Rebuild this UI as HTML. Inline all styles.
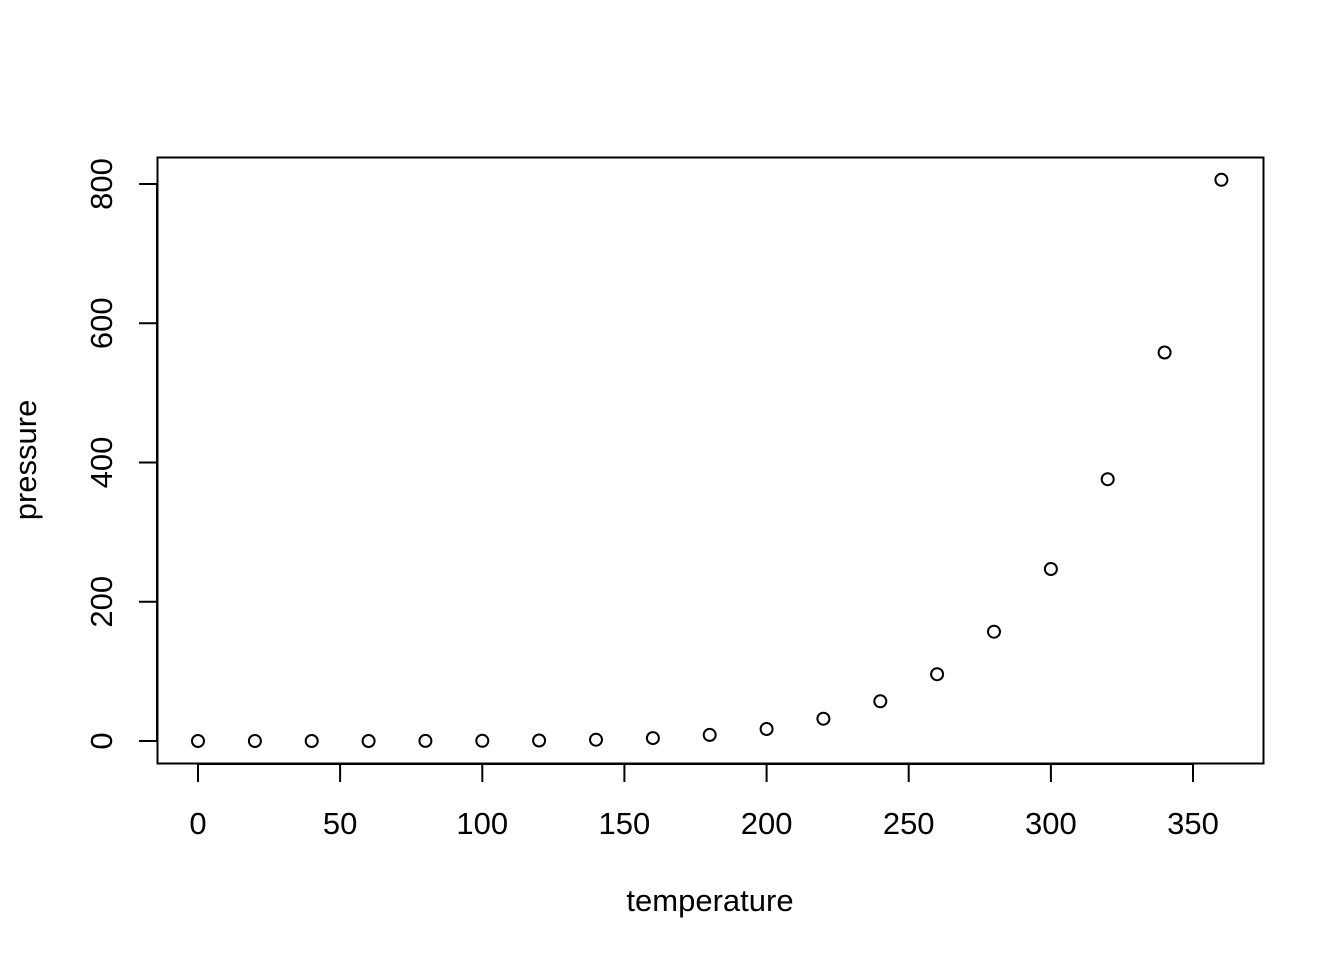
<!DOCTYPE html>
<html><head><meta charset="utf-8"><style>html,body{margin:0;padding:0;background:#fff}</style></head>
<body>
<svg width="1344" height="960" xmlns="http://www.w3.org/2000/svg" font-family="Liberation Sans, Arial, sans-serif" font-size="31">
<rect x="0" y="0" width="1344" height="960" fill="#fff"/>
<rect x="157.5" y="157.5" width="1106" height="606" fill="none" stroke="#000" stroke-width="2"/>
<g stroke="#000" stroke-width="2">
<line x1="198" y1="764" x2="1193" y2="764"/>
<line x1="198" y1="764" x2="198" y2="782"/>
<line x1="340.1" y1="764" x2="340.1" y2="782"/>
<line x1="482.3" y1="764" x2="482.3" y2="782"/>
<line x1="624.4" y1="764" x2="624.4" y2="782"/>
<line x1="766.6" y1="764" x2="766.6" y2="782"/>
<line x1="908.7" y1="764" x2="908.7" y2="782"/>
<line x1="1050.9" y1="764" x2="1050.9" y2="782"/>
<line x1="1193" y1="764" x2="1193" y2="782"/>
<line x1="157" y1="741" x2="157" y2="184"/>
<line x1="157" y1="741" x2="139" y2="741"/>
<line x1="157" y1="601.75" x2="139" y2="601.75"/>
<line x1="157" y1="462.5" x2="139" y2="462.5"/>
<line x1="157" y1="323.25" x2="139" y2="323.25"/>
<line x1="157" y1="184" x2="139" y2="184"/>
</g>
<g text-anchor="middle">
<text x="198" y="834">0</text>
<text x="340.1" y="834">50</text>
<text x="482.3" y="834">100</text>
<text x="624.4" y="834">150</text>
<text x="766.6" y="834">200</text>
<text x="908.7" y="834">250</text>
<text x="1050.9" y="834">300</text>
<text x="1193" y="834">350</text>
<text x="710" y="911">temperature</text>
<text transform="translate(112,741) rotate(-90)">0</text>
<text transform="translate(112,601.75) rotate(-90)">200</text>
<text transform="translate(112,462.5) rotate(-90)">400</text>
<text transform="translate(112,323.25) rotate(-90)">600</text>
<text transform="translate(112,184) rotate(-90)">800</text>
<text transform="translate(36,460) rotate(-90)">pressure</text>
</g>
<g fill="none" stroke="#000" stroke-width="2">
<circle cx="198" cy="741" r="6"/>
<circle cx="254.9" cy="741" r="6"/>
<circle cx="311.7" cy="741" r="6"/>
<circle cx="368.6" cy="741" r="6"/>
<circle cx="425.4" cy="740.9" r="6"/>
<circle cx="482.3" cy="740.8" r="6"/>
<circle cx="539.1" cy="740.5" r="6"/>
<circle cx="596" cy="739.7" r="6"/>
<circle cx="652.9" cy="738.1" r="6"/>
<circle cx="709.7" cy="734.9" r="6"/>
<circle cx="766.6" cy="729" r="6"/>
<circle cx="823.4" cy="718.7" r="6"/>
<circle cx="880.3" cy="701.3" r="6"/>
<circle cx="937.1" cy="674.2" r="6"/>
<circle cx="994" cy="631.7" r="6"/>
<circle cx="1050.9" cy="569" r="6"/>
<circle cx="1107.7" cy="479.2" r="6"/>
<circle cx="1164.6" cy="352.5" r="6"/>
<circle cx="1221.4" cy="179.8" r="6"/>
</g>
</svg>
</body></html>
